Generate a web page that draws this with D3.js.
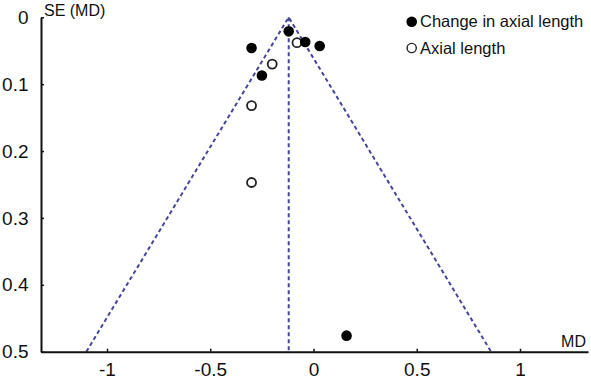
<!DOCTYPE html>
<html>
<head>
<meta charset="utf-8">
<script src="https://cdn.jsdelivr.net/npm/d3@7"></script>
<style>
  html, body { margin: 0; padding: 0; background: #fff; }
  svg { display: block; font-family: "Liberation Sans", Arial, sans-serif; }
</style>
</head>
<body>
<svg id="chart" width="591" height="382"></svg>
<script>
// ---- Data ----
const changeMD = [-0.30, -0.25, -0.12, -0.04, 0.03, 0.16];
const changeSE = [0.046, 0.087, 0.021, 0.037, 0.043, 0.476];
const axialMD  = [-0.08, -0.20, -0.30, -0.30];
const axialSE  = [0.038, 0.070, 0.132, 0.247];
const pooledMD = -0.12;
const xTicks = [-1, -0.5, 0, 0.5, 1];
const yTicks = [0, 0.1, 0.2, 0.3, 0.4, 0.5];
const seMax = 0.5;
const legendLabels = ["Change in axial length", "Axial length"];

// ---- Layout ----
const plotLeft = 41, plotRight = 588, plotTop = 17.3, plotBottom = 351.7;
const svg = d3.select("#chart");

const x = d3.scaleLinear().domain([-1.3196, 1.3293]).range([plotLeft, plotRight]);
const y = d3.scaleLinear().domain([0, seMax]).range([plotTop, plotBottom]);

const lineColor = "#45459c";
const axisColor = "#111";

// funnel
const funnel = [
  [pooledMD - 1.96 * seMax, seMax],
  [pooledMD, 0],
  [pooledMD + 1.96 * seMax, seMax]
];
svg.append("path")
  .attr("d", d3.line().x(d => x(d[0])).y(d => y(d[1]))(funnel))
  .attr("fill", "none")
  .attr("stroke", lineColor)
  .attr("stroke-width", 2)
  .attr("stroke-dasharray", "4,3");
svg.append("line")
  .attr("x1", x(pooledMD)).attr("x2", x(pooledMD))
  .attr("y1", y(0)).attr("y2", y(seMax))
  .attr("stroke", lineColor)
  .attr("stroke-width", 2)
  .attr("stroke-dasharray", "4,3");

// axes
const xAxis = d3.axisBottom(x).tickValues(xTicks).tickFormat(d => String(d))
  .tickSizeInner(-3).tickSizeOuter(0).tickPadding(11);
const gx = svg.append("g").attr("transform", `translate(0,${plotBottom})`).call(xAxis);
const yAxis = d3.axisLeft(y).tickValues(yTicks).tickFormat(d => String(d))
  .tickSizeInner(-3).tickSizeOuter(0).tickPadding(12.5);
const gy = svg.append("g").attr("transform", `translate(${plotLeft},0)`).call(yAxis);

[gx, gy].forEach(g => {
  g.select(".domain").attr("stroke", axisColor).attr("stroke-width", 2);
  g.selectAll(".tick line").attr("stroke", axisColor).attr("stroke-width", 1.5);
  g.selectAll(".tick text").attr("fill", "#111").attr("font-size", 19)
    .attr("font-family", "'Liberation Sans', Arial, sans-serif");
});

// axis titles
svg.append("text").attr("x", 44).attr("y", 15.5).text("SE (MD)")
  .attr("font-size", 16).attr("fill", "#111");
svg.append("text").attr("x", 586).attr("y", 347).attr("text-anchor", "end").text("MD")
  .attr("font-size", 16).attr("fill", "#111");

// points
const changePts = changeMD.map((m, i) => ({ md: m, se: changeSE[i] }));
const axialPts = axialMD.map((m, i) => ({ md: m, se: axialSE[i] }));

svg.append("g").selectAll("circle").data(axialPts).join("circle")
  .attr("cx", d => x(d.md)).attr("cy", d => y(d.se)).attr("r", 4.5)
  .attr("fill", "#fff").attr("stroke", "#222").attr("stroke-width", 1.8);
svg.append("g").selectAll("circle").data(changePts).join("circle")
  .attr("cx", d => x(d.md)).attr("cy", d => y(d.se)).attr("r", 5.3)
  .attr("fill", "#000");

// legend
const lg = svg.append("g");
lg.append("circle").attr("cx", 411.7).attr("cy", 21.7).attr("r", 5.3).attr("fill", "#000");
lg.append("text").attr("x", 420).attr("y", 27).text(legendLabels[0])
  .attr("font-size", 16.5).attr("fill", "#111");
lg.append("circle").attr("cx", 411.7).attr("cy", 48).attr("r", 4.6)
  .attr("fill", "#fff").attr("stroke", "#222").attr("stroke-width", 1.4);
lg.append("text").attr("x", 420).attr("y", 53.5).text(legendLabels[1])
  .attr("font-size", 16.5).attr("fill", "#111");
</script>
</body>
</html>
